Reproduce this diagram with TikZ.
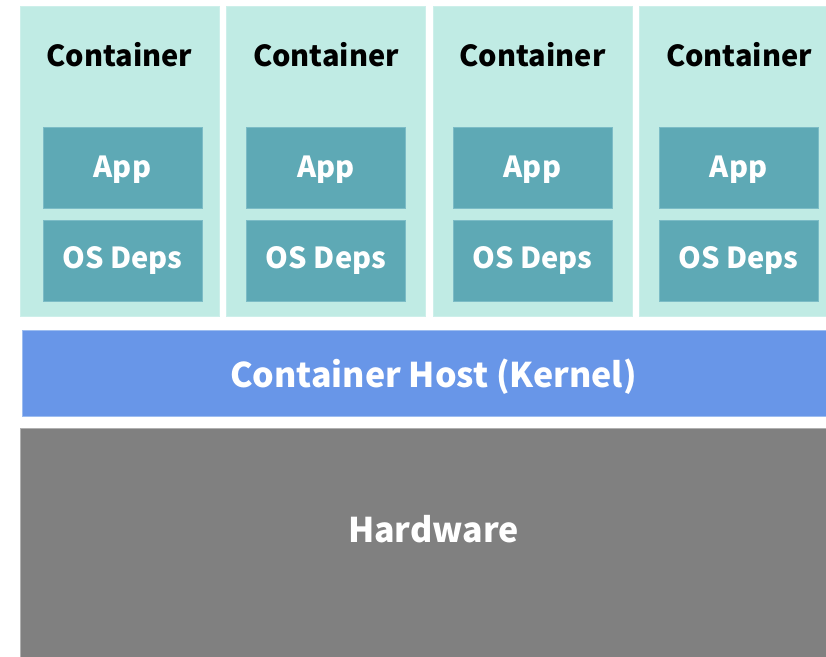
\documentclass[tikz,border=0pt]{standalone}
\usepackage{fontspec}
\setmainfont{Noto Sans CJK SC}
\definecolor{mint}{HTML}{C0EBE4}
\definecolor{mintedge}{HTML}{CDEFEA}
\definecolor{teal}{HTML}{5EA9B5}
\definecolor{tealedge}{HTML}{7CBCC6}
\definecolor{kblue}{HTML}{6896E8}
\definecolor{kedge}{HTML}{9DBDF0}
\definecolor{hgray}{HTML}{808080}
\definecolor{hedge}{HTML}{B0B0B0}
\tikzset{
  box/.style={anchor=north west, inner sep=0pt, outer sep=0pt},
  contbox/.style={box, fill=mint, draw=mintedge, line width=0.8pt, minimum width=199pt, minimum height=310pt},
  layerbox/.style={box, fill=teal, draw=tealedge, line width=0.8pt, minimum width=159pt, minimum height=81pt},
  conttext/.style={anchor=base, font=\bfseries\fontsize{29}{32}\selectfont, text=black},
  whitetext/.style={anchor=base, font=\bfseries\fontsize{29}{32}\selectfont, text=white},
  bigtext/.style={anchor=base, font=\bfseries\fontsize{34}{38}\selectfont, text=white},
}
\begin{document}
\begin{tikzpicture}[x=1pt,y=-1pt]
\useasboundingbox (0,0) rectangle (826,656);
\foreach \i/\cx/\ax in {1/20/43, 2/226.5/246.5, 3/433/453, 4/639.5/659} {
  \node[contbox] (c\i) at (\cx,6.5) {};
  \node[conttext] (ct\i) at ([yshift=-59.5pt]c\i.north) {Container};
  \node[layerbox] (app\i) at (\ax,127) {};
  \node[whitetext] (appt\i) at ([yshift=-50pt]app\i.north) {App};
  \node[layerbox] (os\i) at (\ax,220) {};
  \node[whitetext] (ost\i) at ([yshift=-48pt]os\i.north) {OS Deps};
}
\node[box, fill=kblue, draw=kedge, line width=0.8pt, minimum width=820pt, minimum height=86pt] (kernel) at (22,330) {};
\node[bigtext] (kt) at (433.5,387) {Container Host (Kernel)};
\node[box, fill=hgray, draw=hedge, line width=0.8pt, minimum width=820pt, minimum height=240pt] (hw) at (20,428) {};
\node[bigtext] (ht) at (433.5,542) {Hardware};
\end{tikzpicture}
\end{document}
